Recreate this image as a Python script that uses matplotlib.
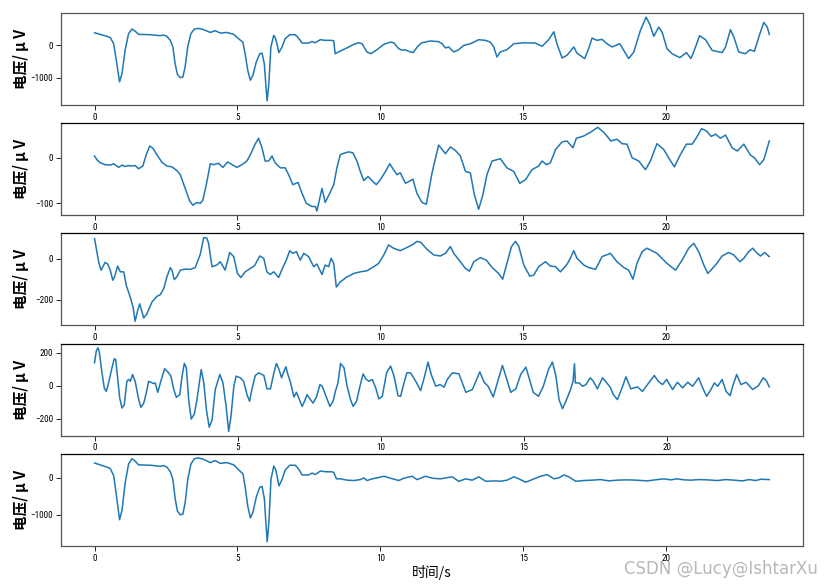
import matplotlib
matplotlib.use("Agg")
import matplotlib.pyplot as plt
from matplotlib import font_manager

# channel 1 (raw)
ch1_t = [0, 0.2, 0.43, 0.55, 0.67, 0.78, 0.875, 0.96, 1.07, 1.19, 1.31, 1.42, 1.54, 1.95, 2.3,
         2.42, 2.53, 2.65, 2.74, 2.82, 2.9, 3.0, 3.09, 3.17, 3.26, 3.37, 3.49, 3.64, 3.82, 4.05,
         4.22, 4.4, 4.63, 4.87, 5.04, 5.19, 5.27, 5.36, 5.45, 5.54, 5.66, 5.78, 5.86, 5.94, 6.0,
         6.04, 6.1, 6.17, 6.27, 6.34, 6.45, 6.56, 6.67, 6.83, 7.02, 7.14, 7.26, 7.49, 7.61, 7.72,
         7.9, 8.07, 8.3, 8.37,
         8.42, 8.6, 8.83, 9.07, 9.24, 9.36, 9.53, 9.67, 9.88, 10.12, 10.35, 10.47, 10.64, 10.76,
         10.88, 11.0, 11.15, 11.3, 11.45, 11.75, 12.04, 12.16, 12.28, 12.39, 12.57, 12.74, 12.92,
         13.15, 13.44, 13.68, 13.85, 13.97, 14.08, 14.2, 14.43, 14.67, 15.02, 15.43, 15.66, 15.89,
         16.07, 16.18, 16.36, 16.53, 16.77, 16.88, 17.15, 17.29, 17.41, 17.58, 17.76, 17.93, 18.11,
         18.38, 18.52, 18.69, 18.87, 19.1, 19.3, 19.43, 19.57, 19.74, 19.86, 20.03, 20.21, 20.48,
         20.71, 20.87, 21.03, 21.17, 21.38, 21.61, 21.96, 22.08, 22.25, 22.37, 22.54, 22.78, 22.93,
         23.09, 23.28, 23.42, 23.54, 23.61]
ch1_v = [390, 340, 280, 240, 50, -570, -1130, -880, -150, 360, 505, 440, 340, 330, 300,
         320, 280, 155, -50, -570, -900, -1000, -980, -670, -50, 360, 505, 525, 485, 400,
         455, 380, 400, 340, 205, 100, -260, -770, -1080, -930, -515, -260, -240, -570, -1290,
         -1720, -1185, -50, 310, 205, -225, -50, 205, 330, 330, 225, 70, 70, 120, 80,
         175, 155, 155, 135,
         -260, -175, -80, 30, 80, 50, -205, -260, -135, 30, 100, 80, -100, -150,
         -140, -190, -225, -40, 80, 135, 115, 50, -80, -50, -205, -135, 0,
         50, 175, 155, 100, -50, -360, -205, -135, 50, 80, 70, -30, 175,
         420, 50, -390, -310, -50, -240, -410, -100, 225, 155, 185, 50, -50,
         50, -155, -410, -205, 460, 875, 650, 280, 565, 410, -100, -260, -380,
         -225, -410, -50, 300, 175, -155, -225, -50, 485, 260, -205, -260, -135,
         -185, 360, 710, 565, 340]

# channel 2
ch2_t = [0, 0.08, 0.2, 0.37, 0.55, 0.67, 0.84, 0.96, 1.07, 1.19, 1.31, 1.42, 1.54, 1.69, 1.81,
         1.93, 2.04, 2.18, 2.36, 2.53, 2.71, 2.88, 3.0, 3.17, 3.33, 3.44, 3.58, 3.7, 3.79, 3.91,
         4.05, 4.17, 4.34, 4.49, 4.66, 4.81, 4.98, 5.16, 5.33, 5.47, 5.62, 5.74, 5.86, 5.97, 6.09,
         6.21, 6.32, 6.5, 6.67, 6.79, 6.94, 7.12, 7.26, 7.41, 7.61, 7.73, 7.78, 7.88, 7.96, 8.07,
         8.23, 8.37, 8.48, 8.6, 8.77, 8.89, 9.04, 9.18, 9.3, 9.42, 9.57, 9.74, 9.86, 10.0, 10.18,
         10.33, 10.46, 10.58,
         10.7, 10.88, 11.0, 11.14, 11.28, 11.46, 11.61, 11.81, 12.04, 12.28, 12.45, 12.63, 12.8,
         12.98, 13.15, 13.29, 13.44, 13.59, 13.73, 13.91, 14.2, 14.43, 14.67, 14.88, 15.08, 15.31,
         15.54, 15.66, 15.81, 15.95, 16.13, 16.36, 16.53, 16.74, 16.86, 17.12, 17.35, 17.61, 17.82,
         18.07, 18.28, 18.46, 18.63, 18.81, 19.04, 19.28, 19.45, 19.68, 19.92, 20.09, 20.29, 20.5,
         20.71, 20.91, 21.06, 21.24, 21.41, 21.58, 21.73, 21.9, 22.08, 22.31, 22.49, 22.72, 22.95,
         23.09, 23.27, 23.42, 23.61]
ch2_v = [4, -4, -11, -15, -16, -13, -21, -16, -19, -17, -18, -17, -24, -18, 7,
         26, 21, 7, -10, -18, -20, -28, -37, -67, -95, -104, -98, -100, -93, -59,
         -13, -15, -12, -21, -9, -15, -21, -15, -7, 9, 30, 43, 22, -7, -7,
         4, -11, -22, -22, -37, -59, -54, -78, -100, -107, -107, -117, -89, -67, -98,
         -78, -59, -22, 7, 11, 13, 11, -7, -30, -50, -41, -52, -59, -48, -30,
         -13, -26, -37,
         -33, -56, -52, -47, -78, -98, -102, -33, 28, 9, 24, 16, 4,
         -30, -33, -81, -113, -81, -37, -7, -2, -22, -30, -56, -48, -26,
         -18, -7, -15, -11, 18, 35, 37, 22, 43, 48, 56, 67, 56,
         37, 41, 31, 30, 0, -7, -26, -7, 31, 18, 0, -20, 7,
         30, 30, 44, 64, 59, 47, 52, 43, 50, 22, 15, 30, 6,
         0, -15, -4, 37]

# channel 3
ch3_t = [0, 0.08, 0.15, 0.23, 0.32, 0.37, 0.46, 0.55, 0.64, 0.7, 0.81, 0.9, 1.02, 1.11, 1.25,
         1.35, 1.42, 1.51, 1.58, 1.72, 1.83, 2.01, 2.18, 2.3, 2.42, 2.53, 2.65, 2.71, 2.79, 2.88,
         3.0, 3.17, 3.35, 3.52, 3.7, 3.82, 3.93, 3.99, 4.11, 4.28, 4.4, 4.57, 4.73, 4.87, 5.0,
         5.12, 5.27, 5.45, 5.6, 5.78, 5.92, 6.03, 6.15, 6.27, 6.44, 6.6, 6.71, 6.83, 6.94, 7.06,
         7.2, 7.32, 7.49, 7.67, 7.78, 7.96, 8.07, 8.19, 8.28, 8.37, 8.46, 8.6, 8.83, 9.07, 9.3,
         9.53, 9.77, 9.94, 10.12, 10.29, 10.46,
         10.7, 10.88, 11.11, 11.28, 11.42, 11.63, 11.87, 12.1, 12.28, 12.45, 12.57, 12.8, 12.98,
         13.12, 13.27, 13.5, 13.71, 13.91, 14.14, 14.28, 14.43, 14.59, 14.73, 14.84, 15.02, 15.23,
         15.37, 15.54, 15.78, 15.95, 16.13, 16.3, 16.53, 16.65, 16.77, 16.88, 17.12, 17.29, 17.53,
         17.76, 18.05, 18.28, 18.52, 18.69, 18.84, 18.98, 19.16, 19.33, 19.68, 20.03, 20.33, 20.56,
         20.79, 20.97, 21.14, 21.32, 21.46, 21.73, 21.96, 22.19, 22.37, 22.58, 22.72, 22.89, 23.03,
         23.16, 23.3, 23.45, 23.61]
ch3_v = [98, 34, -20, -56, -31, -18, -26, -56, -105, -89, -36, -64, -64, -130, -187,
         -236, -305, -252, -220, -289, -269, -211, -184, -175, -146, -89, -44, -56, -102, -89,
         -56, -51, -52, -44, 21, 103, 100, 75, -39, -31, -15, -56, 30, 10, -72,
         -92, -64, -48, -34, 13, 2, -64, -77, -64, -92, -39, -7, 39, 26, 34,
         -7, 26, 10, -39, -26, -77, -31, -39, 2, -23, -138, -113, -89, -72, -64,
         -59, -39, -23, 18, 67, 51,
         39, 51, 67, 84, 79, 46, 18, 13, 26, 59, 26, -15, -48,
         -61, -15, 5, -7, -43, -72, -100, -23, 59, 84, 62, -31, -85,
         -80, -39, -15, -36, -39, -64, -28, 2, 39, 2, -31, -43, -52,
         10, 26, -15, -43, -56, -100, -23, 34, 51, 26, -23, -56, -7,
         51, 75, 34, -31, -72, -31, 13, 30, 18, -15, 2, 34, 51,
         30, 13, 30, 10]

# channel 4
ch4_t = [0, 0.06, 0.12, 0.17, 0.26, 0.34, 0.41, 0.49, 0.61, 0.69, 0.74, 0.8, 0.88, 0.96, 1.04,
         1.13, 1.19, 1.25, 1.33, 1.42, 1.54, 1.62, 1.72, 1.81, 1.89, 1.97, 2.07, 2.12, 2.21, 2.3,
         2.45, 2.59, 2.67, 2.77, 2.86, 2.98, 3.06, 3.14, 3.21, 3.29, 3.38, 3.49, 3.58, 3.68, 3.73,
         3.82, 3.91, 4.01, 4.11, 4.22, 4.38, 4.49, 4.6, 4.69, 4.77, 4.87, 4.95, 5.1, 5.21, 5.33,
         5.42, 5.5, 5.62, 5.74, 5.92, 6.03, 6.15, 6.27, 6.36, 6.45, 6.54, 6.6, 6.69, 6.76, 6.85,
         6.97, 7.06, 7.14, 7.26, 7.34, 7.43, 7.53, 7.64, 7.76, 7.88, 7.96, 8.07, 8.23, 8.34, 8.42,
         8.51, 8.6, 8.72, 8.83, 8.95, 9.04, 9.16, 9.28, 9.39, 9.48, 9.59, 9.71, 9.83, 9.94, 10.06,
         10.21, 10.35, 10.47, 10.61, 10.7, 10.82, 10.92, 11.05,
         11.23, 11.4, 11.54, 11.66, 11.77, 11.93, 12.08, 12.22, 12.33, 12.51, 12.74, 12.98, 13.21,
         13.47, 13.62, 13.76, 13.94, 14.08, 14.26, 14.38, 14.55, 14.73, 14.9, 15.08, 15.19, 15.34,
         15.52, 15.69, 15.87, 16.01, 16.13, 16.24, 16.36, 16.48, 16.65, 16.73, 16.78, 16.81, 16.94,
         17.06, 17.18, 17.33, 17.44, 17.58, 17.76, 17.91, 18.03, 18.14, 18.28, 18.42, 18.58, 18.75,
         18.87, 18.98, 19.16, 19.33, 19.57, 19.71, 19.86, 20.0, 20.21, 20.38, 20.56, 20.74, 20.91,
         21.12, 21.26, 21.4, 21.55, 21.67, 21.79, 21.94, 22.08, 22.22, 22.31, 22.45, 22.6, 22.78,
         23.01, 23.21, 23.38, 23.48, 23.59]
ch4_v = [138, 209, 229, 199, 77, -14, -35, 16, 108, 162, 158, 57, -75, -136, -116,
         26, 37, 26, 67, 26, -81, -132, -106, -45, 26, 20, 12, 16, -41, 16,
         102, 77, 57, -24, -71, -55, 57, 134, 108, -85, -203, -171, -85, 37, 97,
         16, -146, -252, -207, -24, 67, 16, -126, -278, -187, -4, 57, 47, 26, -55,
         -95, -24, 61, 77, 61, -20, -20, 77, 134, 97, 47, 77, 114, 67, 20,
         -69, -41, -75, -126, -95, -55, -81, -106, -69, 6, -4, -55, -126, -95, -35,
         16, 134, 108, -4, -85, -126, -95, -4, 71, 41, 26, 37, -14, -81, -65,
         77, 118, 57, -61, -65, 16, 77, 77,
         26, -30, 57, 142, 67, -4, 6, -10, 37, 77, 71, -41, -24,
         83, 20, -4, -69, 16, 122, 57, -41, -20, 67, 112, 47, -41,
         -65, -4, 97, 142, 57, -85, -140, -95, -20, 26, 132, 16, 16,
         -4, 6, 47, 26, -20, 47, 16, -10, -55, -85, -24, 53, -20,
         -14, -8, -35, 6, 61, 26, 6, 37, -24, 20, -14, 20, -4,
         47, -14, -65, -24, 16, -4, 37, -35, -61, -4, 67, 6, 20,
         -24, 0, 47, 32, -8]

# channel 5: same as channel 1 until ~8.4 s, flat afterwards
ch5_tail_t = [8.46, 8.6, 8.83, 9.07, 9.3, 9.42, 9.53, 9.71, 9.94, 10.12, 10.35, 10.64, 10.82,
              11.11, 11.28, 11.58, 11.81, 12.1, 12.28, 12.51, 12.74, 12.98, 13.21, 13.44, 13.68,
              14.03, 14.2, 14.43, 14.67, 14.84, 15.08, 15.31, 15.6, 15.83, 16.07, 16.24, 16.42,
              16.59, 16.77, 16.83, 17.12, 17.41, 17.7, 17.99, 18.28, 18.63, 18.93, 19.33, 19.68,
              19.92, 20.15, 20.38, 20.62, 20.85, 21.14, 21.43, 21.78, 22.08, 22.37, 22.66, 22.89,
              23.13, 23.3, 23.6]
ch5_tail_v = [-35, -35, -70, -80, -55, -10, -80, -35, 0, 35, -18, -80, -18,
              35, -55, 35, -18, -35, -10, 18, -100, -35, -70, 18, -100,
              -90, -100, -70, 18, -35, -125, -55, 35, 80, -35, -10, 70,
              18, -70, -100, -80, -70, -55, -90, -70, -62, -70, -90, -55,
              -35, -62, -35, -62, -70, -55, -62, -80, -55, -70, -90, -55,
              -80, -45, -55]
n_head = ch1_t.index(8.37) + 1
ch5_t = ch1_t[:n_head] + ch5_tail_t
ch5_v = ch1_v[:n_head] + ch5_tail_v

series = [(ch1_t, ch1_v), (ch2_t, ch2_v), (ch3_t, ch3_v), (ch4_t, ch4_v), (ch5_t, ch5_v)]
yticks = [[-1000, 0], [-100, 0], [-200, 0], [-200, 0, 200], [-1000, 0]]
xticks = [0, 5, 10, 15, 20]

names = {f.name for f in font_manager.fontManager.ttflist}
tick_font = 'DejaVu Sans'
for cand in ['Liberation Sans Narrow', 'Roboto Condensed', 'Open Sans Condensed',
             'DejaVu Sans Condensed', 'Liberation Sans']:
    if cand in names:
        tick_font = cand
        break
cjk = ['Noto Sans CJK SC', 'DejaVu Sans']

fig, axes = plt.subplots(5, 1, figsize=(8.33, 5.87), dpi=100)
plt.subplots_adjust(left=0.073, right=0.964, top=0.978, bottom=0.07, hspace=0.196)

for i, (ax, (t, v), yt) in enumerate(zip(axes, series, yticks)):
    ax.plot(t, v, color='#1f77b4', linewidth=1.1)
    ax.set_xticks(xticks)
    ax.set_yticks(yt)
    ax.tick_params(labelsize=6.6, length=3.5, width=0.6, pad=2)
    for lab in ax.get_xticklabels() + ax.get_yticklabels():
        lab.set_family(tick_font)
    for sp in ax.spines.values():
        sp.set_color('#555555')
        sp.set_linewidth(0.9)
    if i > 0:
        ax.spines['top'].set_color('black')
    ax.set_ylabel('电压/ μ V', family=cjk, fontsize=10.5, fontweight='bold')
    ax.yaxis.set_label_coords(-0.043, 0.5)

axes[-1].set_xlabel('时间/s', family=cjk, fontsize=10, labelpad=2)

fig.text(0.982, 0.03, 'CSDN @Lucy@IshtarXu', ha='right', va='center', fontsize=12,
         color='#b8b8b8', family='DejaVu Sans')

plt.savefig('out.png', dpi=100)
